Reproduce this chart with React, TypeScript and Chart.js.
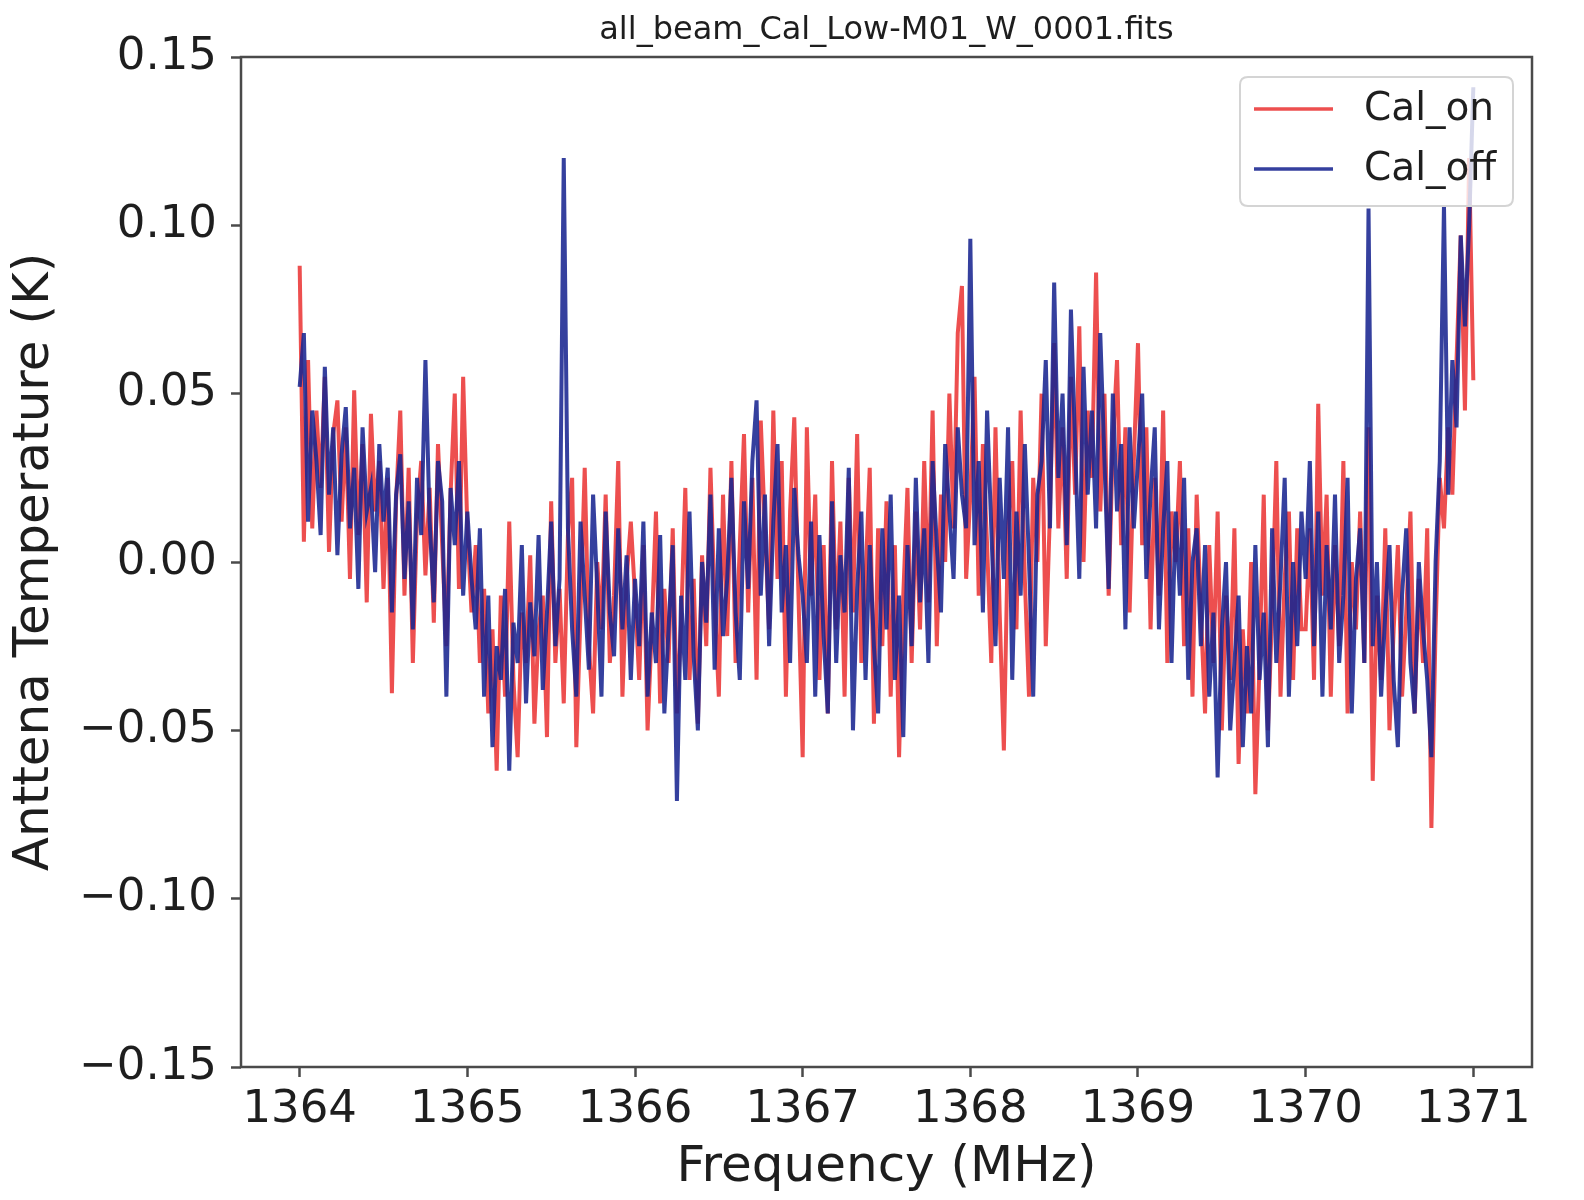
import React, { useEffect, useRef } from "react";
import { Chart, registerables } from "chart.js";

Chart.register(...registerables);

const TITLE = "all_beam_Cal_Low-M01_W_0001.fits";
const X_LABEL = "Frequency (MHz)";
const Y_LABEL = "Anttena Temperature (K)";
const SERIES_NAMES = ["Cal_on", "Cal_off"];

const FREQ_START = 1364;
const FREQ_STEP = 0.025;

const X_TICKS = [1364, 1365, 1366, 1367, 1368, 1369, 1370, 1371];
const Y_TICKS = [-0.15, -0.1, -0.05, 0, 0.05, 0.1, 0.15];
const Y_TICK_LABELS = ["\u22120.15", "\u22120.10", "\u22120.05", "0.00", "0.05", "0.10", "0.15"];

// Cal_on (red), K
const CAL_ON = [
  0.088, 0.006, 0.060, 0.010, 0.045, 0.022, 0.055, 0.003, 0.038, 0.048,
  0.012, 0.040, -0.005, 0.051, 0.008, 0.035, -0.012, 0.044, 0.015, 0.030,
  -0.008, 0.025, -0.039, 0.018, 0.045, -0.010, 0.028, -0.030, 0.014, 0.030,
  -0.004, 0.022, -0.018, 0.035, 0.005, -0.025, 0.020, 0.050, -0.008, 0.055,
  // 1365
  0.010, -0.015, 0.005, -0.030, -0.008, -0.045, -0.020, -0.062, -0.010, -0.040,
  0.012, -0.035, -0.058, -0.015, -0.030, 0.002, -0.048, -0.020, -0.010, -0.052,
  0.018, -0.030, -0.008, -0.042, 0.008, 0.025, -0.055, -0.015, 0.028, -0.025,
  -0.045, 0.000, -0.020, 0.020, -0.030, -0.010, 0.030, -0.040, -0.005, 0.012,
  // 1366
  -0.010, -0.035, 0.005, -0.050, -0.020, 0.015, -0.042, -0.008, -0.030, 0.010,
  -0.045, -0.018, 0.022, -0.035, -0.005, -0.048, 0.002, -0.025, 0.028, -0.012,
  -0.040, 0.020, -0.022, 0.030, -0.030, 0.005, 0.038, -0.015, 0.025, -0.035,
  0.042, 0.010, -0.020, 0.045, -0.005, 0.030, -0.040, 0.015, 0.043, -0.010,
  // 1367
  -0.058, 0.040, -0.010, 0.020, -0.035, 0.005, -0.045, 0.030, -0.020, 0.012,
  -0.040, 0.025, -0.015, 0.038, -0.030, -0.005, 0.028, -0.048, 0.010, -0.025,
  0.018, -0.040, 0.005, -0.058, -0.010, 0.022, -0.030, 0.015, -0.020, 0.030,
  -0.012, 0.045, -0.025, 0.020, 0.000, 0.050, 0.010, 0.068, 0.082, -0.005,
  // 1368
  0.020, 0.055, -0.010, 0.035, 0.005, -0.030, 0.040, -0.015, -0.056, 0.010,
  0.030, -0.020, 0.045, -0.005, -0.040, 0.025, 0.000, 0.050, -0.025, 0.015,
  0.065, 0.010, 0.040, -0.005, 0.055, 0.020, 0.070, 0.000, 0.045, 0.025,
  0.086, 0.015, 0.050, -0.010, 0.035, 0.060, 0.005, 0.040, -0.015, 0.030,
  // 1369
  0.065, 0.005, 0.040, -0.020, 0.025, -0.010, 0.045, -0.030, 0.015, 0.000,
  0.030, -0.025, 0.010, -0.040, 0.020, -0.015, -0.045, 0.005, -0.030, 0.015,
  -0.050, -0.010, -0.035, 0.010, -0.060, -0.020, -0.045, 0.000, -0.069, -0.030,
  0.020, -0.050, -0.015, 0.030, -0.040, -0.005, 0.015, -0.035, 0.010, -0.020,
  // 1370
  -0.020, 0.010, -0.035, 0.047, -0.010, 0.020, -0.040, 0.005, -0.025, 0.030,
  -0.045, 0.000, -0.020, 0.015, -0.030, 0.040, -0.065, -0.010, -0.035, 0.010,
  -0.050, -0.020, 0.005, -0.040, -0.015, 0.015, -0.045, -0.005, -0.030, 0.010,
  -0.079, -0.020, 0.025, 0.010, 0.040, 0.020, 0.060, 0.097, 0.045, 0.120,
  0.054,
];

// Cal_off (blue), K
const CAL_OFF = [
  0.052, 0.068, 0.012, 0.045, 0.030, 0.008, 0.058, 0.020, 0.040, 0.002,
  0.032, 0.046, 0.010, 0.028, -0.008, 0.040, 0.015, 0.022, -0.003, 0.035,
  0.012, 0.028, -0.015, 0.020, 0.032, -0.005, 0.018, -0.020, 0.025, 0.008,
  0.060, 0.012, -0.012, 0.030, 0.018, -0.040, 0.022, 0.005, 0.030, -0.010,
  // 1365
  0.015, -0.005, -0.020, 0.010, -0.040, -0.010, -0.055, -0.025, -0.035, -0.008,
  -0.062, -0.018, -0.030, 0.005, -0.042, -0.012, -0.028, 0.008, -0.038, -0.015,
  0.012, -0.025, -0.005, 0.120, 0.010, -0.020, -0.040, 0.012, -0.010, -0.032,
  0.020, -0.008, -0.040, 0.015, -0.015, -0.028, 0.010, -0.020, 0.002, -0.035,
  // 1366
  -0.005, -0.025, 0.012, -0.040, -0.015, -0.030, 0.008, -0.045, -0.020, 0.005,
  -0.071, -0.010, -0.035, 0.015, -0.028, -0.050, 0.000, -0.018, 0.020, -0.032,
  0.010, -0.022, -0.005, 0.025, -0.015, -0.035, 0.018, -0.008, 0.030, 0.048,
  -0.010, 0.020, -0.025, 0.012, 0.035, -0.015, 0.005, -0.030, 0.022, 0.002,
  // 1367
  -0.010, -0.030, 0.012, -0.040, 0.008, -0.022, -0.045, 0.018, -0.030, 0.002,
  -0.015, 0.028, -0.050, -0.008, 0.015, -0.035, 0.005, -0.025, -0.045, 0.010,
  -0.020, 0.020, -0.035, -0.010, -0.052, 0.005, -0.025, 0.025, -0.012, 0.010,
  -0.030, 0.030, 0.005, -0.015, 0.035, 0.015, -0.005, 0.040, 0.020, 0.010,
  // 1368
  0.096, 0.005, 0.030, -0.015, 0.045, 0.010, -0.025, 0.025, -0.005, 0.040,
  -0.035, 0.015, -0.010, 0.035, 0.000, -0.040, 0.020, 0.030, 0.060, 0.010,
  0.083, 0.025, 0.050, 0.005, 0.075, 0.035, -0.005, 0.058, 0.020, 0.045,
  0.010, 0.068, 0.030, -0.008, 0.050, 0.015, 0.035, -0.020, 0.040, 0.010,
  // 1369
  0.030, 0.050, -0.005, 0.020, 0.040, -0.020, 0.010, 0.030, -0.030, 0.015,
  -0.010, 0.025, -0.035, 0.000, 0.010, -0.025, 0.005, -0.040, -0.015, -0.064,
  -0.020, 0.000, -0.050, -0.030, -0.010, -0.055, -0.025, -0.045, 0.005, -0.035,
  -0.015, -0.055, 0.010, -0.030, -0.005, 0.025, -0.040, 0.000, -0.025, 0.015,
  // 1370
  -0.005, 0.030, -0.025, 0.015, -0.040, 0.005, -0.020, 0.020, -0.030, -0.010,
  0.025, -0.045, -0.005, 0.010, -0.030, 0.105, -0.025, 0.000, -0.040, -0.015,
  0.005, -0.035, -0.055, -0.010, 0.010, -0.030, -0.045, 0.000, -0.020, -0.035,
  -0.058, 0.000, 0.030, 0.106, 0.020, 0.060, 0.040, 0.097, 0.070, 0.100,
  0.141,
];

const FREQS = CAL_ON.map((_, i) => FREQ_START + i * FREQ_STEP);

const RED = "rgba(232, 30, 30, 0.78)";
const BLUE = "rgba(25, 38, 145, 0.88)";
const FONT = "'DejaVu Sans', 'Liberation Sans', sans-serif";
const TEXT = "#1e1e1e";
const FRAME = "#4a4a4a";

const framePlugin = {
  id: "frameLegendTitle",
  afterDraw(chart: any) {
    const { ctx, chartArea } = chart;
    const { left, right, top, bottom } = chartArea;
    ctx.save();
    // frame (all four spines)
    ctx.strokeStyle = FRAME;
    ctx.lineWidth = 2.5;
    ctx.strokeRect(left, top, right - left, bottom - top);

    // legend box (upper right)
    const bx = right - 292;
    const by = top + 20;
    const bw = 273;
    const bh = 129;
    const r = 8;
    ctx.beginPath();
    ctx.moveTo(bx + r, by);
    ctx.lineTo(bx + bw - r, by);
    ctx.quadraticCurveTo(bx + bw, by, bx + bw, by + r);
    ctx.lineTo(bx + bw, by + bh - r);
    ctx.quadraticCurveTo(bx + bw, by + bh, bx + bw - r, by + bh);
    ctx.lineTo(bx + r, by + bh);
    ctx.quadraticCurveTo(bx, by + bh, bx, by + bh - r);
    ctx.lineTo(bx, by + r);
    ctx.quadraticCurveTo(bx, by, bx + r, by);
    ctx.closePath();
    ctx.fillStyle = "rgba(255,255,255,0.8)";
    ctx.fill();
    ctx.strokeStyle = "#d4d4d4";
    ctx.lineWidth = 2;
    ctx.stroke();

    const colors = [RED, BLUE];
    const rowsY = [by + 32, by + 92];
    ctx.font = `39px ${FONT}`;
    ctx.textAlign = "left";
    ctx.textBaseline = "middle";
    SERIES_NAMES.forEach((name, i) => {
      ctx.strokeStyle = colors[i];
      ctx.lineWidth = 3.5;
      ctx.beginPath();
      ctx.moveTo(bx + 14, rowsY[i]);
      ctx.lineTo(bx + 93, rowsY[i]);
      ctx.stroke();
      ctx.fillStyle = TEXT;
      ctx.fillText(name, bx + 124, rowsY[i] + 1);
    });

    // title
    ctx.font = `32px ${FONT}`;
    ctx.textAlign = "center";
    ctx.textBaseline = "middle";
    ctx.fillStyle = TEXT;
    ctx.fillText(TITLE, (left + right) / 2, 31);
    ctx.restore();
  },
};

export default function App() {
  const canvasRef = useRef<HTMLCanvasElement | null>(null);

  useEffect(() => {
    const canvas = canvasRef.current;
    if (!canvas) return;
    const chart = new Chart(canvas, {
      type: "line",
      data: {
        datasets: [
          {
            label: SERIES_NAMES[0],
            data: FREQS.map((f, i) => ({ x: f, y: CAL_ON[i] })),
            borderColor: RED,
            backgroundColor: RED,
            borderWidth: 4,
            pointRadius: 0,
            tension: 0,
            order: 1,
          },
          {
            label: SERIES_NAMES[1],
            data: FREQS.map((f, i) => ({ x: f, y: CAL_OFF[i] })),
            borderColor: BLUE,
            backgroundColor: BLUE,
            borderWidth: 4,
            pointRadius: 0,
            tension: 0,
            order: 0,
          },
        ],
      },
      options: {
        animation: false,
        responsive: false,
        devicePixelRatio: 1,
        layout: { padding: { top: 57, right: 52, left: 0, bottom: 0 } },
        plugins: {
          legend: { display: false },
          title: { display: false },
          tooltip: { enabled: false },
        },
        scales: {
          x: {
            type: "linear",
            min: 1363.65,
            max: 1371.35,
            afterBuildTicks: (scale: any) => {
              scale.ticks = X_TICKS.map((v) => ({ value: v }));
            },
            afterFit: (scale: any) => {
              scale.height = 133;
            },
            border: { display: false },
            grid: {
              display: true,
              drawOnChartArea: false,
              drawTicks: true,
              tickLength: 10,
              tickWidth: 2.5,
              tickColor: FRAME,
            },
            ticks: {
              autoSkip: false,
              maxRotation: 0,
              padding: 11,
              color: TEXT,
              font: { family: FONT, size: 45, lineHeight: 1 },
              callback: (v: any) => String(v),
            },
            title: {
              display: true,
              text: X_LABEL,
              color: TEXT,
              font: { family: FONT, size: 50, lineHeight: 1 },
              padding: { top: 0, bottom: 7 },
            },
          },
          y: {
            type: "linear",
            min: -0.15,
            max: 0.15,
            afterBuildTicks: (scale: any) => {
              scale.ticks = Y_TICKS.map((v) => ({ value: v }));
            },
            afterFit: (scale: any) => {
              scale.width = 241;
            },
            border: { display: false },
            grid: {
              display: true,
              drawOnChartArea: false,
              drawTicks: true,
              tickLength: 10,
              tickWidth: 2.5,
              tickColor: FRAME,
            },
            ticks: {
              autoSkip: false,
              padding: 14,
              color: TEXT,
              font: { family: FONT, size: 45, lineHeight: 1 },
              callback: (v: any) => {
                const idx = Y_TICKS.findIndex((t) => Math.abs(t - v) < 1e-9);
                return idx >= 0 ? Y_TICK_LABELS[idx] : "";
              },
            },
            title: {
              display: true,
              text: Y_LABEL,
              color: TEXT,
              font: { family: FONT, size: 50, lineHeight: 1 },
              padding: { top: 10, bottom: 0 },
            },
          },
        },
      },
      plugins: [framePlugin],
    });
    return () => chart.destroy();
  }, []);

  return (
    <div style={{ position: "absolute", left: 0, top: 0, width: 1584, height: 1200, background: "#fff" }}>
      <canvas ref={canvasRef} width={1584} height={1200} style={{ display: "block", width: 1584, height: 1200 }} />
    </div>
  );
}
